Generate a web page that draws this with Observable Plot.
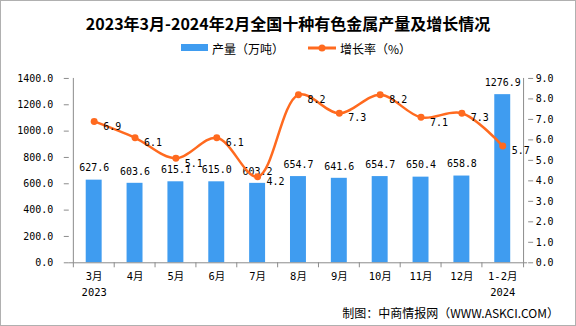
<!DOCTYPE html>
<html><head><meta charset="utf-8">
<script src="https://cdn.jsdelivr.net/npm/d3@7"></script>
<script src="https://cdn.jsdelivr.net/npm/@observablehq/plot@0.6"></script>
<style>
html,body{margin:0;padding:0;background:#fff;}
#wrap{position:relative;width:574px;height:324px;border:1px solid #b0b0b0;overflow:hidden;font-family:"DejaVu Sans Mono","Noto Sans CJK SC",sans-serif;}
#title{position:absolute;left:0;top:10px;width:574px;text-align:center;font:bold 16px "Noto Sans CJK SC","Liberation Sans",sans-serif;color:#000;}
#legend{position:absolute;top:38px;left:0;width:574px;height:20px;font:12px "Noto Sans CJK SC",sans-serif;color:#000;}
.lg{position:absolute;top:0;display:flex;align-items:center;height:18px;}
#chart{position:absolute;left:0;top:60px;}
#caption{position:absolute;right:16px;top:303px;font:12px "Noto Sans CJK SC",sans-serif;color:#000;}
</style></head>
<body>
<div id="wrap">
  <div id="title">2023年3月-2024年2月全国十种有色金属产量及增长情况</div>
  <div id="legend">
    <div class="lg" style="left:180px"><svg width="28" height="10"><rect x="0" y="1" width="27" height="7" fill="#3f9cf0"/></svg><span style="margin-left:3px">产量（万吨）</span></div>
    <div class="lg" style="left:307px"><svg width="29" height="10"><line x1="0" y1="5" x2="28" y2="5" stroke="#ff6a1f" stroke-width="3"/><circle cx="14" cy="5" r="3.5" fill="#ff6a1f"/></svg><span style="margin-left:3px">增长率（%）</span></div>
  </div>
  <div id="chart"></div>
  <div id="caption">制图：中商情报网（WWW.ASKCI.COM）</div>
</div>
<script>
const months = ["3月","4月","5月","6月","7月","8月","9月","10月","11月","12月","1-2月"];
const output = [627.6,603.6,615.1,615.0,603.2,654.7,641.6,654.7,650.4,658.8,1276.9];
const growth = [6.9,6.1,5.1,6.1,4.2,8.2,7.3,8.2,7.1,7.3,5.7];
const yearLabels = {"3月":"2023","1-2月":"2024"};
const leftTicks = [0,200,400,600,800,1000,1200,1400];
const rightTicks = [0,1,2,3,4,5,6,7,8,9];

const BLUE = "#3f9cf0", ORANGE = "#ff6a1f", AXIS = "#8c8c8c";
const leftMax = 1400, rightMax = 9;
const toLeft = v => v * leftMax / rightMax;

const data = months.map((m,i)=>({m, v: output[i], g: growth[i]}));

const W = 576, H = 240, mL = 68, mR = 48, mT = 17, mB = 38;
const step = (W - mL - mR) / months.length;
const below = -38; // small tick length below baseline in y units

const chart = Plot.plot({
  width: W, height: H,
  marginLeft: mL, marginRight: mR, marginTop: mT, marginBottom: mB,
  style: {fontFamily: '"DejaVu Sans Mono","Noto Sans CJK SC",sans-serif', fontSize: "10px", color: "#000", background: "transparent"},
  x: {domain: months, paddingInner: 0.62, paddingOuter: 0.31, align: 0.5, axis: null},
  y: {domain: [0, leftMax], axis: null},
  marks: [
    Plot.barY(data, {x: "m", y: "v", fill: BLUE}),
    Plot.ruleY([0], {stroke: AXIS}),
    Plot.ruleX(months, {x: d => d, dx: -step/2, y1: below, y2: 0, stroke: AXIS}),
    Plot.ruleX([months[months.length-1]], {x: d => d, dx: step/2, y1: below, y2: 0, stroke: AXIS}),
    Plot.ruleX([months[0]], {x: d => d, dx: -step/2, y1: 0, y2: leftMax, stroke: AXIS}),
    Plot.ruleX([months[months.length-1]], {x: d => d, dx: step/2, y1: 0, y2: leftMax, stroke: AXIS}),
    Plot.axisY(leftTicks, {anchor: "left", tickSize: 5, stroke: AXIS, text: null, label: null}),
    Plot.axisY(leftTicks, {anchor: "left", tickSize: 0, tickPadding: 16, tickFormat: d => d.toFixed(1), fill: "#000", label: null, fontSize: 10}),
    Plot.axisY(rightTicks.map(toLeft), {anchor: "right", tickSize: 5, stroke: AXIS, text: null, label: null}),
    Plot.axisY(rightTicks.map(toLeft), {anchor: "right", tickSize: 0, tickPadding: 8, tickFormat: d => (d*rightMax/leftMax).toFixed(1), fill: "#000", label: null, fontSize: 10}),
    Plot.axisX({tickSize: 0, tickPadding: 5, lineHeight: 1.6, fill: "#000", label: null,
      tickFormat: d => yearLabels[d] ? d + "\n" + yearLabels[d] : d, fontSize: 10.5}),
    Plot.text(data, {x: "m", y: "v", text: d => d.v.toFixed(1), dy: -12, fill: "#000", fontSize: 10}),
    Plot.line(data, {x: "m", y: d => toLeft(d.g), stroke: ORANGE, strokeWidth: 2.5, curve: "catmull-rom"}),
    Plot.dot(data, {x: "m", y: d => toLeft(d.g), r: 3.5, fill: ORANGE}),
    Plot.text(data, {x: "m", y: d => toLeft(d.g), text: d => d.g.toFixed(1), textAnchor: "start", dx: 9, dy: 5, fill: "#000", fontSize: 10})
  ]
});
document.getElementById("chart").appendChild(chart);
</script>
</body></html>
